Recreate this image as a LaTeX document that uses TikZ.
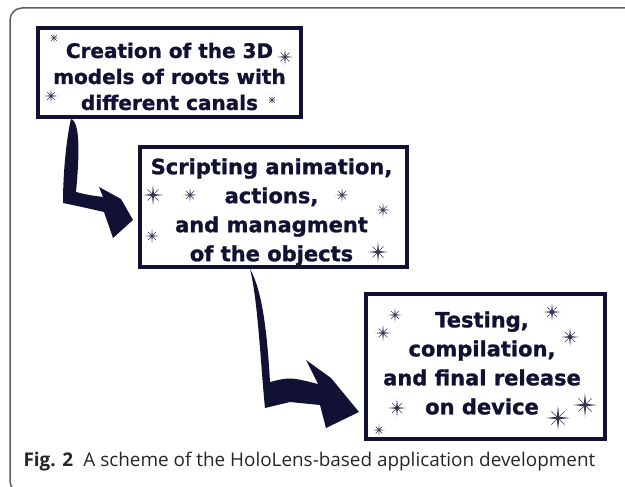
\documentclass[tikz,border=0pt]{standalone}
\usepackage{fontspec}
\setmainfont{DejaVu Sans}[BoldFeatures={FakeBold=1.2}]
\newfontfamily\capfont{Open Sans}
\usetikzlibrary{calc}
\definecolor{navy}{RGB}{17,17,51}
\definecolor{framegray}{RGB}{95,95,95}
\tikzset{stepbox/.style = {draw=navy, line width=4pt, rectangle, inner sep=0pt},
         steptext/.style = {align=center, text=navy, inner sep=0pt, font=\bfseries\fontsize{21}{29}\selectfont},
         sparkle/.pic = {\fill[navy!85] (0,#1) -- (0.1*#1,0.1*#1) -- (#1,0) -- (0.1*#1,-0.1*#1) -- (0,-#1) -- (-0.1*#1,-0.1*#1) -- (-#1,0) -- (-0.1*#1,0.1*#1) -- cycle;
                         \draw[navy!85, line width=0.6pt] (-0.55*#1,-0.55*#1) -- (0.55*#1,0.55*#1) (-0.55*#1,0.55*#1) -- (0.55*#1,-0.55*#1);}}

\begin{document}
\begin{tikzpicture}[x=1pt, y=-1pt]
        \useasboundingbox (0,0) rectangle (625,487);
        \draw[framegray, line width=1.5pt, rounded corners=12pt] (640,8) -- (10,8) -- (10,493) -- (40,493);
        % the three steps
        \node[stepbox, minimum width=263, minimum height=89](b1)at(169.5,72.5){};
        \node[stepbox, minimum width=267, minimum height=120](b2)at(273.5,207){};
        \node[stepbox, minimum width=239, minimum height=145](b3)at(485,366){};
        \node[steptext, font=\bfseries\fontsize{20}{26}\selectfont](l1)at([yshift=-4]b1.center){Creation of the 3D\\models of roots with\\different canals};
        \node[steptext](l2)at([xshift=-2,yshift=-5]b2.center){Scripting animation,\\actions,\\and managment\\of the objects};
        \node[steptext](l3)at([xshift=-3,yshift=3]b3.center){Testing,\\compilation,\\and final release\\on device};
        % bent arrows
        \coordinate (s1) at ([xshift=35]b1.south west);
        \coordinate (t1) at ([xshift=-5,yshift=-13]b2.west);
        \fill[navy] (s1) .. controls (81,122) and (79,160) .. (76,192) .. controls (88,195) .. (103,197) -- (99,187) -- (121,199) -- (t1) -- (113,238) -- (104,212) -- (82,207) -- (63,203) .. controls (63,170) and (67,135) .. (s1) -- cycle;
        \coordinate (s2) at ([xshift=112]b2.south west);
        \coordinate (t2) at ([xshift=-4.5,yshift=-46]b3.west);
        \fill[navy] (s2) .. controls (262,290) and (267,330) .. (270,382) .. controls (290,377) .. (318,384) -- (306,360) -- (331,378) -- (t2) -- (326,428) -- (320,405) -- (290,402) -- (265,408) .. controls (261,370) and (258,300) .. (s2) -- cycle;
        % sparkles
        \foreach \x/\y/\r in {54/38/5, 285/57/8, 51/96/7, 272/100/5,
                              153/195/10, 190/195/7, 342/195/7, 383/210/7, 152/236/7, 378/252/10,
                              395/315/7, 383/333/8, 552/312/9, 570/337/9, 397/408/9, 585/405/12, 558/418/12, 379/430/6}
            \pic at (\x,\y) {sparkle=\r};
        \node[anchor=base west, text=black!85, font=\capfont\fontsize{18.9}{19}\selectfont](cap)at(20,466){\textbf{Fig. 2}\hspace{0.55em}A scheme of the HoloLens-based application development};
    \end{tikzpicture}
\end{document}
